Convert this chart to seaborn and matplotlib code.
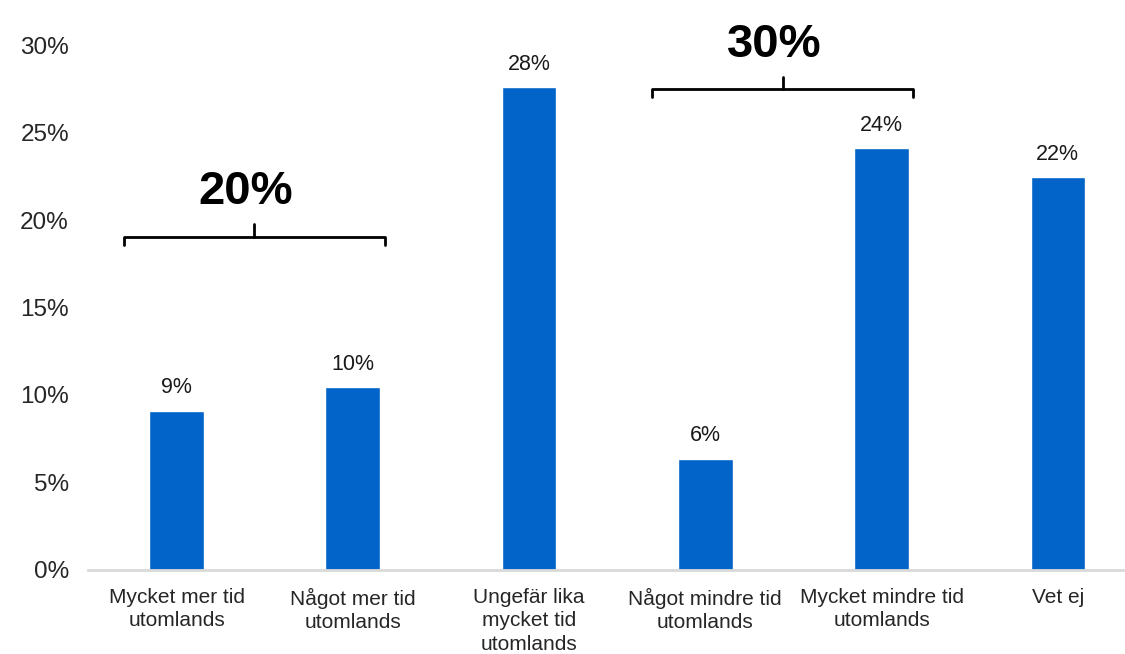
import matplotlib
matplotlib.use("Agg")
import matplotlib.pyplot as plt
import seaborn as sns
import pandas as pd

# Survey answers: time spent abroad going forward
categories = [
    "Mycket mer tid\nutomlands",
    "Något mer tid\nutomlands",
    "Ungefär lika\nmycket tid\nutomlands",
    "Något mindre tid\nutomlands",
    "Mycket mindre tid\nutomlands",
    "Vet ej",
]
shares = [9.1, 10.45, 27.6, 6.35, 24.1, 22.45]

# Groups summarised with a bracket: (first index, last index)
groups = [(0, 1), (3, 4)]

yticks = [0, 5, 10, 15, 20, 25, 30]
ytick_labels = ["0%", "5%", "10%", "15%", "20%", "25%", "30%"]

sns.set_theme(style="white")
plt.rcParams["font.family"] = ["Liberation Sans", "DejaVu Sans"]

df = pd.DataFrame({"category": categories, "share": shares})

W, H = 1125, 654
fig = plt.figure(figsize=(W / 100, H / 100), dpi=100)
left_px, bottom_px = 88.4, H - 569.5
ax = fig.add_axes([left_px / W, bottom_px / H, (W - left_px) / W, 1 - bottom_px / H])

bar_color = "#0264C8"
sns.barplot(data=df, x="category", y="share", color=bar_color, width=0.31,
            saturation=1, ax=ax)

step = 176.26
ax.set_xlim(-0.5, -0.5 + (W - left_px) / step)
ax.set_ylim(0, 569.5 / 17.47)
ax.set_yticks(yticks)
ax.set_yticklabels(ytick_labels, fontsize=17.5)
ax.tick_params(axis="y", length=0, pad=14)
ax.tick_params(axis="x", length=0, pad=13, labelsize=15)
for lbl in ax.get_xticklabels():
    lbl.set_linespacing(1.3)
ax.set_xlabel("")
ax.set_ylabel("")

for side in ["top", "right", "left"]:
    ax.spines[side].set_visible(False)
ax.spines["bottom"].set_color("#D9D9D9")
ax.spines["bottom"].set_linewidth(2)

# Value labels above each bar
for i, v in enumerate(shares):
    ax.text(i, v + 0.7, f"{round(v):.0f}%", ha="center", va="bottom",
            fontsize=15.5, color="#1a1a1a")

# Brackets with the combined share of each group
for a, b in groups:
    total = sum(shares[a:b + 1])
    top = max(shares[a:b + 1])
    x0, x1 = a - 0.3, b + 0.18
    xm = (x0 + x1) / 2
    y = top + 8.6 if top < 15 else top + 3.4
    ax.plot([x0, x0, x1, x1], [y - 0.45, y, y, y - 0.45], color="black",
            lw=2, clip_on=False, solid_joinstyle="round")
    ax.plot([xm, xm], [y, y + 0.7], color="black", lw=2, clip_on=False)
    ax.text(xm - 0.05, y + 2.55, f"{round(total):.0f}%", ha="center", va="center",
            fontsize=34, fontweight="bold", color="black", clip_on=False)

fig.savefig("out.png", dpi=100)
